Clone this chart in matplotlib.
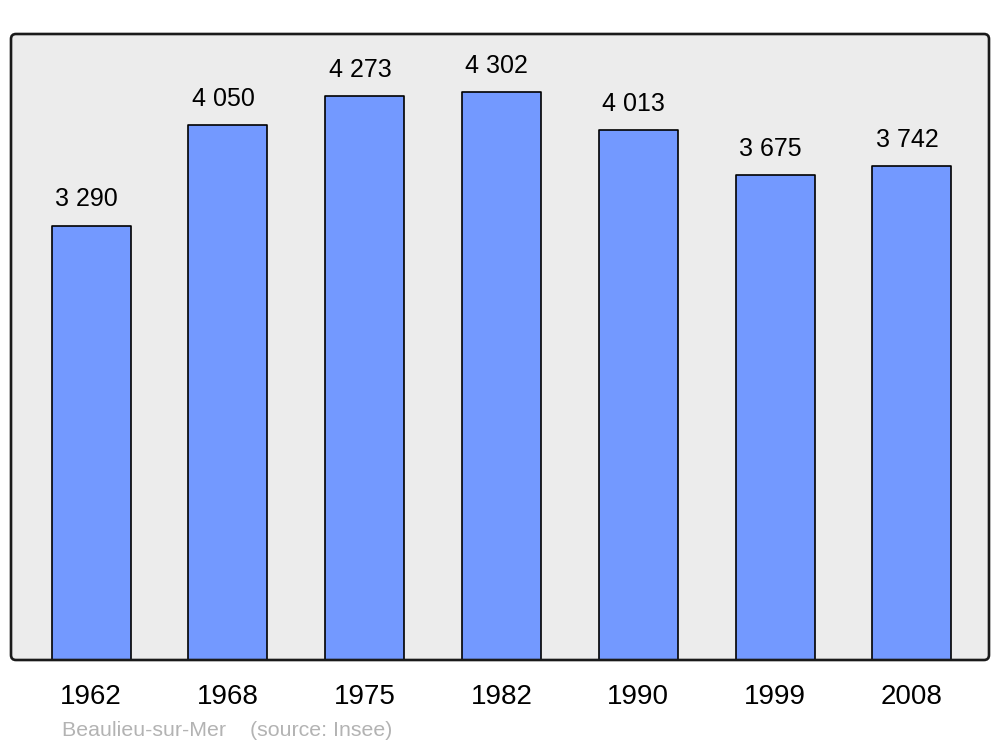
import matplotlib.pyplot as plt
from matplotlib.patches import FancyBboxPatch

years = ["1962", "1968", "1975", "1982", "1990", "1999", "2008"]
population = [3290, 4050, 4273, 4302, 4013, 3675, 3742]
value_labels = ["3 290", "4 050", "4 273", "4 302", "4 013", "3 675", "3 742"]

plt.rcParams['font.family'] = ['Liberation Sans', 'DejaVu Sans']

fig = plt.figure(figsize=(10, 7.47), dpi=100)
ax = fig.add_axes([0.011, 87 / 747, 0.978, 626 / 747])
ax.patch.set_visible(False)
for s in ax.spines.values():
    s.set_visible(False)

# panel background and border (in inches so corners stay round)
box = dict(boxstyle="round,pad=0,rounding_size=0.05", transform=fig.dpi_scale_trans)
fig.add_artist(FancyBboxPatch((0.11, 0.87), 9.78, 6.26, facecolor="#ececec",
                              edgecolor="none", zorder=-1, **box))
fig.add_artist(FancyBboxPatch((0.11, 0.87), 9.78, 6.26, facecolor="none",
                              edgecolor="#1a1a1a", linewidth=1.9, zorder=5, **box))

x = list(range(len(years)))
ax.bar(x, population, width=0.577, color="#7399ff", edgecolor="black",
       linewidth=1.2, joinstyle="round", zorder=2)

for xi, v, lab in zip(x, population, value_labels):
    ax.annotate(lab, (xi, v), xytext=(-3.4, 18.9), textcoords="offset points",
                ha="center", va="center", fontsize=18)
    ax.annotate(years[xi], (xi, 0), xytext=(0, -27), textcoords="offset points",
                ha="center", va="center", fontsize=20)

ax.set_xlim(-0.585, 6.563)
ax.set_ylim(0, 4741)
ax.set_xticks([])
ax.set_yticks([])

fig.text(0.062, 1 - 731 / 747, "Beaulieu-sur-Mer    (source: Insee)",
         color="#b3b3b3", fontsize=15.4, va="center", ha="left")

fig.savefig("out.png", dpi=100)
